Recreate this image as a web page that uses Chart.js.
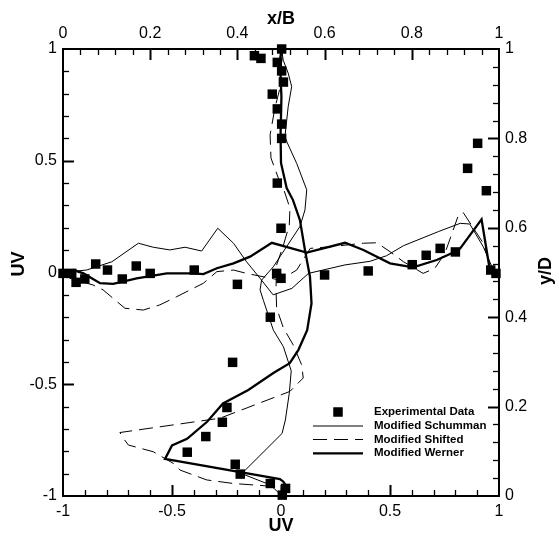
<!DOCTYPE html>
<html><head><meta charset="utf-8">
<script src="https://cdn.jsdelivr.net/npm/chart.js@4.4.1/dist/chart.umd.min.js"></script>
<style>html,body{margin:0;padding:0;background:#fff}#wrap{width:559px;height:540px}</style>
</head><body><div id="wrap"><canvas id="c" width="559" height="540"></canvas></div>
<script>
// ---- tick labels ----
const uvTicks = [-1, -0.5, 0, 0.5, 1];
const fracTicks = [0, 0.2, 0.4, 0.6, 0.8, 1];

// ---- Experimental data: vertical profile (UV vs y/D) ----
const expV_yD = [0.002, 0.017, 0.028, 0.049, 0.071, 0.098, 0.133, 0.165, 0.198, 0.299, 0.400, 0.487, 0.599, 0.700, 0.800, 0.832, 0.866, 0.899, 0.926, 0.951, 0.970, 0.979, 0.985, 1.0];
const expV_uv = [0.006, 0.021, -0.049, -0.187, -0.21, -0.43, -0.345, -0.269, -0.248, -0.222, -0.049, 0.0, 0.0, -0.017, 0.003, 0.003, -0.017, -0.04, 0.011, 0.003, -0.017, -0.092, -0.122, 0.003];
// ---- Experimental data: horizontal profile (x/B vs UV) ----
const expH_xB = [0.0, 0.02, 0.03, 0.05, 0.075, 0.102, 0.136, 0.168, 0.2, 0.301, 0.4, 0.49, 0.6, 0.7, 0.801, 0.833, 0.865, 0.9, 0.928, 0.951, 0.971, 0.981, 0.993];
const expH_uv = [-0.004, -0.004, -0.044, -0.029, 0.038, 0.011, -0.029, 0.029, -0.004, 0.011, -0.053, -0.004, -0.011, 0.007, 0.035, 0.077, 0.108, 0.092, 0.466, 0.578, 0.366, 0.011, -0.004];

// ---- Modified Schumman ----
const schV_yD = [0.0, 0.025, 0.05, 0.14, 0.17, 0.23, 0.28, 0.334, 0.371, 0.438, 0.461, 0.483, 0.513, 0.558, 0.603, 0.64, 0.685, 0.744, 0.79, 0.804, 0.871, 0.916, 0.946, 0.975, 1.0];
const schV_uv = [0.005, -0.05, -0.18, 0.005, 0.02, 0.038, 0.047, 0.011, -0.035, -0.081, -0.096, -0.089, -0.035, 0.026, 0.087, 0.11, 0.118, 0.072, 0.029, 0.018, 0.033, 0.049, 0.033, 0.01, 0.003];
const schH_xB = [0.0, 0.016, 0.054, 0.112, 0.173, 0.207, 0.245, 0.28, 0.318, 0.355, 0.391, 0.421, 0.452, 0.482, 0.525, 0.563, 0.647, 0.704, 0.742, 0.781, 0.861, 0.911, 0.933, 0.964, 0.987, 1.0];
const schH_uv = [0.0, 0.004, 0.011, 0.048, 0.131, 0.113, 0.101, 0.113, 0.096, 0.198, 0.131, 0.048, -0.026, -0.1, -0.071, -0.004, 0.034, 0.05, 0.075, 0.12, 0.183, 0.22, 0.217, 0.115, 0.011, 0.0];

// ---- Modified Shifted ----
const shfV_yD = [0.0, 0.012, 0.022, 0.028, 0.036, 0.058, 0.073, 0.099, 0.114, 0.129, 0.142, 0.174, 0.234, 0.264, 0.293, 0.338, 0.376, 0.42, 0.465, 0.517, 0.561, 0.606, 0.644, 0.688, 0.711, 0.756, 0.808, 0.868, 0.912, 0.98, 1.0];
const shfV_uv = [0.0, 0.026, -0.05, -0.219, -0.341, -0.463, -0.494, -0.586, -0.7, -0.723, -0.739, -0.28, 0.041, 0.102, 0.095, 0.056, 0.011, -0.02, -0.023, -0.02, 0.011, 0.038, 0.041, 0.011, -0.012, -0.046, -0.05, -0.028, -0.005, 0.005, 0.003];
const shfH_xB = [0.0, 0.016, 0.069, 0.092, 0.142, 0.184, 0.222, 0.261, 0.322, 0.353, 0.391, 0.421, 0.459, 0.498, 0.536, 0.567, 0.612, 0.689, 0.72, 0.75, 0.781, 0.826, 0.853, 0.876, 0.907, 0.918, 0.964, 0.983, 1.0];
const shfH_uv = [-0.002, -0.026, -0.056, -0.078, -0.16, -0.168, -0.145, -0.108, -0.048, 0.004, 0.011, -0.004, -0.019, -0.034, 0.011, 0.108, 0.115, 0.131, 0.133, 0.093, 0.048, -0.004, 0.019, 0.086, 0.257, 0.268, 0.131, 0.011, -0.002];

// ---- Modified Werner ----
const werV_yD = [0.0, 0.02, 0.032, 0.038, 0.083, 0.113, 0.128, 0.166, 0.207, 0.237, 0.275, 0.297, 0.327, 0.371, 0.431, 0.49, 0.55, 0.617, 0.662, 0.689, 0.745, 0.808, 0.893, 0.975, 1.0];
const werV_uv = [0.0, 0.026, 0.011, -0.005, -0.532, -0.5, -0.431, -0.339, -0.266, -0.15, -0.035, 0.04, 0.08, 0.12, 0.14, 0.133, 0.11, 0.087, 0.055, 0.026, 0.0, -0.002, 0.002, -0.005, 0.003];
const werH_xB = [0.0, 0.024, 0.047, 0.085, 0.115, 0.169, 0.238, 0.299, 0.322, 0.353, 0.391, 0.429, 0.479, 0.559, 0.647, 0.689, 0.75, 0.803, 0.857, 0.899, 0.911, 0.96, 0.979, 1.0];
const werH_uv = [0.002, 0.011, -0.004, -0.048, -0.051, -0.026, -0.004, -0.004, -0.007, 0.019, 0.041, 0.071, 0.133, 0.089, 0.133, 0.101, 0.041, 0.023, 0.056, 0.093, 0.108, 0.238, 0.011, -0.002];

const pts = (xs, ys) => xs.map((x, i) => ({ x: x, y: ys[i] }));

Chart.defaults.font.family = '"Liberation Sans", Arial, Helvetica, sans-serif';
Chart.defaults.color = '#000';

const THIN = 1, BOLD = 2.3, DASH = [14, 7];

const sq = { showLine: false, pointStyle: 'rect', pointRadius: 6.7, pointBorderWidth: 0, backgroundColor: '#000', borderColor: '#000', clip: false };
const ln = { showLine: true, pointRadius: 0, borderColor: '#000', backgroundColor: '#000', fill: false, tension: 0 };

const datasets = [
  Object.assign({ label: 'Experimental Data', legendIdx: 0, data: pts(expV_uv, expV_yD), xAxisID: 'x', yAxisID: 'y2' }, sq),
  Object.assign({ label: 'Experimental Data (x/B)', data: pts(expH_xB, expH_uv), xAxisID: 'x2', yAxisID: 'y' }, sq),
  Object.assign({ label: 'Modified Werner', legendIdx: 3, data: pts(werV_uv, werV_yD), xAxisID: 'x', yAxisID: 'y2', borderWidth: BOLD }, ln),
  Object.assign({ label: 'Modified Werner (x/B)', data: pts(werH_xB, werH_uv), xAxisID: 'x2', yAxisID: 'y', borderWidth: BOLD }, ln),
  Object.assign({ label: 'Modified Schumman', legendIdx: 1, data: pts(schV_uv, schV_yD), xAxisID: 'x', yAxisID: 'y2', borderWidth: THIN }, ln),
  Object.assign({ label: 'Modified Schumman (x/B)', data: pts(schH_xB, schH_uv), xAxisID: 'x2', yAxisID: 'y', borderWidth: THIN }, ln),
  Object.assign({ label: 'Modified Shifted', legendIdx: 2, data: pts(shfV_uv, shfV_yD), xAxisID: 'x', yAxisID: 'y2', borderWidth: THIN, borderDash: DASH }, ln),
  Object.assign({ label: 'Modified Shifted (x/B)', data: pts(shfH_xB, shfH_uv), xAxisID: 'x2', yAxisID: 'y', borderWidth: THIN, borderDash: DASH }, ln)
];

function axis(position, min, max, ticks, size, title, titlePad) {
  return {
    type: 'linear', position: position, min: min, max: max,
    afterBuildTicks: s => { s.ticks = ticks.map(v => ({ value: v })); },
    afterFit: s => { if (s.isHorizontal()) s.height = size; else s.width = size; },
    ticks: { autoSkip: false, maxRotation: 0, padding: 6, color: '#000', font: { size: 16 }, callback: v => String(v) },
    grid: { display: true, drawOnChartArea: false, drawTicks: false },
    border: { display: true, color: '#000', width: 2 },
    title: { display: title.show, text: title.text, color: '#000', font: { size: 18, weight: 'bold' }, padding: titlePad }
  };
}

const tickSpecs = [
  { id: 'x', major: uvTicks, minor: 0.1 },
  { id: 'y', major: uvTicks, minor: 0.1 },
  { id: 'x2', major: fracTicks, minor: 0.04 },
  { id: 'y2', major: fracTicks, minor: 0.04 }
];

function vTitle(ctx, text, x, y) {
  ctx.save();
  ctx.translate(x, y);
  ctx.rotate(-Math.PI / 2);
  ctx.font = 'bold 18px "Liberation Sans", Arial, sans-serif';
  ctx.fillStyle = '#000';
  ctx.textAlign = 'center';
  ctx.textBaseline = 'middle';
  ctx.fillText(text, 0, 0);
  ctx.restore();
}

const innerTicks = {
  id: 'innerTicks',
  afterDatasetsDraw(chart) {
    const ctx = chart.ctx, a = chart.chartArea;
    ctx.save();
    ctx.strokeStyle = '#000';
    for (const s of tickSpecs) {
      const sc = chart.scales[s.id];
      const n = Math.round((sc.max - sc.min) / s.minor);
      for (let i = 1; i < n; i++) {
        const v = sc.min + i * s.minor;
        const isMajor = s.major.some(m => Math.abs(m - v) < 1e-6);
        const len = isMajor ? 11 : 6;
        ctx.lineWidth = isMajor ? 2 : 1.3;
        const p = Math.round(sc.getPixelForValue(v)) + 0.5;
        ctx.beginPath();
        if (s.id === 'x') { ctx.moveTo(p, a.bottom); ctx.lineTo(p, a.bottom - len); }
        else if (s.id === 'x2') { ctx.moveTo(p, a.top); ctx.lineTo(p, a.top + len); }
        else if (s.id === 'y') { ctx.moveTo(a.left, p); ctx.lineTo(a.left + len, p); }
        else { ctx.moveTo(a.right, p); ctx.lineTo(a.right - len, p); }
        ctx.stroke();
      }
    }
    ctx.restore();
    // vertical axis titles, reading bottom to top
    vTitle(ctx, chart.options.scales.y.title.text, 19, 264);
    vTitle(ctx, chart.options.scales.y2.title.text, 546, 271);
  }
};

const boxLegend = {
  id: 'boxLegend',
  afterDatasetsDraw(chart) {
    const ctx = chart.ctx;
    const items = chart.data.datasets.filter(d => d.legendIdx !== undefined).sort((p, q) => p.legendIdx - q.legendIdx);
    ctx.save();
    ctx.font = 'bold 11.5px "Liberation Sans", Arial, sans-serif';
    ctx.fillStyle = '#000';
    ctx.strokeStyle = '#000';
    ctx.textBaseline = 'middle';
    const x0 = 313, x1 = 363, tx = 374, rows = [412, 426, 439.5, 453.3];
    items.forEach((d, i) => {
      const y = rows[i];
      if (!d.showLine) {
        const side = 9.5;
        ctx.fillRect(338 - side / 2, y - side / 2, side, side);
      } else {
        ctx.lineWidth = d.borderWidth;
        ctx.setLineDash(d.borderDash || []);
        ctx.beginPath(); ctx.moveTo(x0, y); ctx.lineTo(x1, y); ctx.stroke();
        ctx.setLineDash([]);
      }
      ctx.fillText(d.label, tx, y);
    });
    ctx.restore();
  }
};

new Chart(document.getElementById('c'), {
  type: 'scatter',
  data: { datasets: datasets },
  options: {
    responsive: false, animation: false, events: [],
    layout: { padding: 0 },
    plugins: { legend: { display: false }, tooltip: { enabled: false } },
    scales: {
      x: axis('bottom', -1, 1, uvTicks, 44, { show: true, text: 'UV' }, { top: 0, bottom: 3 }),
      y: axis('left', -1, 1, uvTicks, 63, { show: false, text: 'UV' }, { top: 0, bottom: 0 }),
      x2: axis('top', 0, 1, fracTicks, 49, { show: true, text: 'x/B' }, { top: 8, bottom: 0 }),
      y2: axis('right', 0, 1, fracTicks, 60, { show: false, text: 'y/D' }, { top: 0, bottom: 0 })
    }
  },
  plugins: [innerTicks, boxLegend]
});
</script>
</body></html>
